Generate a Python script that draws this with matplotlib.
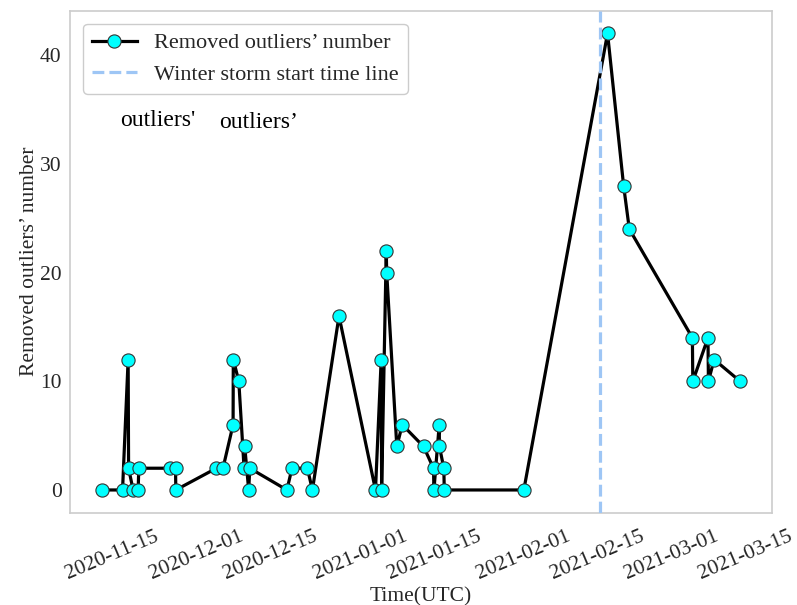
import matplotlib
matplotlib.use("Agg")
import matplotlib.pyplot as plt
import matplotlib.dates as mdates
import pandas as pd

times = [
    '2020-11-13 00:00', '2020-11-16 22:00', '2020-11-17 23:30', '2020-11-18 01:30',
    '2020-11-18 22:00', '2020-11-19 21:00', '2020-11-20 00:00', '2020-11-25 21:00',
    '2020-11-26 23:00', '2020-11-27 00:30', '2020-12-04 17:00', '2020-12-05 23:00',
    '2020-12-07 21:00', '2020-12-07 22:00', '2020-12-08 23:00', '2020-12-09 23:00',
    '2020-12-10 02:00', '2020-12-10 20:00', '2020-12-11 01:00', '2020-12-18 02:00',
    '2020-12-19 01:00', '2020-12-21 23:00', '2020-12-22 22:00', '2020-12-27 23:00',
    '2021-01-03 21:00', '2021-01-04 23:00', '2021-01-05 01:00', '2021-01-05 22:00',
    '2021-01-06 00:00', '2021-01-07 22:00', '2021-01-08 23:00', '2021-01-12 23:30',
    '2021-01-14 21:00', '2021-01-14 23:00', '2021-01-15 23:00', '2021-01-16 00:00',
    '2021-01-16 20:00', '2021-01-16 22:00', '2021-02-01 00:00', '2021-02-16 21:00',
    '2021-02-19 22:00', '2021-02-21 00:00', '2021-03-04 23:00', '2021-03-05 01:00',
    '2021-03-07 22:00', '2021-03-08 00:00', '2021-03-09 02:00', '2021-03-14 00:00',
]
values = [
    0, 0, 12, 2,
    0, 0, 2, 2,
    2, 0, 2, 2,
    6, 12, 10, 2,
    4, 0, 2, 0,
    2, 2, 0, 16,
    0, 12, 0, 22,
    20, 4, 6, 4,
    2, 0, 6, 4,
    2, 0, 0, 42,
    28, 24, 14, 10,
    14, 10, 12, 10,
]
storm_start = '2021-02-15 12:00'

series_label = 'Removed outliers\u2019 number'
storm_label = 'Winter storm start time line'
x_label = 'Time(UTC)'
y_label = 'Removed outliers\u2019 number'
stray_texts = ["outliers'", 'outliers\u2019']

plt.rcParams['font.family'] = ['Liberation Serif', 'DejaVu Serif']

fig = plt.figure(figsize=(7.97, 6.05), dpi=100)
ax = fig.add_axes([0.0878, 0.1524, 0.8808, 0.8302])

t = pd.to_datetime(times)
ax.plot(t, values, color='black', lw=2.3, marker='o', markersize=9.5,
        markerfacecolor='cyan', markeredgecolor='#333333', markeredgewidth=0.8,
        label=series_label, zorder=3)
ax.axvline(pd.to_datetime(storm_start), color='#9ec6f5', lw=2.3, ls='--',
           label=storm_label, zorder=4)

ax.xaxis.set_major_locator(mdates.DayLocator(bymonthday=[1, 15]))
ax.xaxis.set_major_formatter(mdates.DateFormatter('%Y-%m-%d'))
ax.set_yticks([0, 10, 20, 30, 40])

for lab in ax.get_xticklabels():
    lab.set_rotation(23)
    lab.set_ha('center')
ax.tick_params(axis='both', length=0, labelsize=15.5, colors='#262626')
ax.tick_params(axis='x', pad=10.5)
ax.tick_params(axis='y', pad=6)
ax.set_xlabel(x_label, fontsize=15.5, color='#262626', labelpad=2)
ax.set_ylabel(y_label, fontsize=15.5, color='#262626', labelpad=0.5)

for s in ax.spines.values():
    s.set_color('#cccccc')
    s.set_linewidth(1.2)
ax.grid(False)

leg = ax.legend(loc='upper left', fontsize=16, frameon=True, fancybox=True,
                edgecolor='#cccccc', framealpha=1.0, borderaxespad=0.6)
for txt in leg.get_texts():
    txt.set_color('#262626')

fig.text(158 / 797, 1 - 120 / 605, stray_texts[0], fontsize=17, color='black',
         ha='center', va='center')
fig.text(259 / 797, 1 - 123 / 605, stray_texts[1], fontsize=17, color='black',
         ha='center', va='center')

fig.savefig('out.png', dpi=100)
